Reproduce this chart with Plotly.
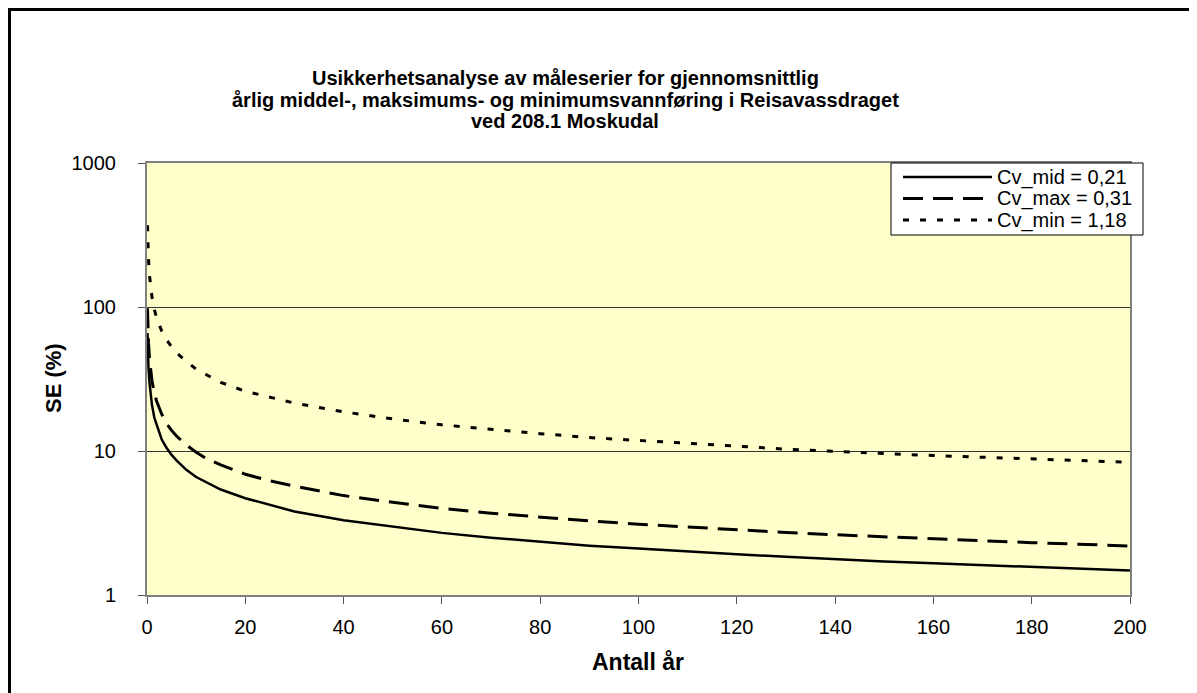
import plotly.graph_objects as go

# Number of years (x) and read-off standard error values (%)
antall_aar = [0.1, 0.2, 0.3, 0.5, 0.75, 1, 1.5, 2, 3, 4, 5, 6, 8, 10, 12, 15, 20, 25, 30,
              40, 50, 60, 70, 80, 90, 100, 110, 120, 130, 140, 150, 160, 170, 180, 190, 200]

se_mid = [66, 47, 38, 30, 24, 21, 17, 15, 12, 10.5, 9.4, 8.6, 7.4, 6.6, 6.1, 5.4, 4.7, 4.2, 3.8,
          3.3, 3.0, 2.7, 2.5, 2.35, 2.2, 2.1, 2.0, 1.92, 1.84, 1.77, 1.71, 1.66, 1.61, 1.57, 1.52, 1.48]

se_max = [98, 69, 57, 44, 36, 31, 25, 22, 18, 15.5, 13.9, 12.7, 11.0, 9.8, 8.9, 8.0, 6.9, 6.2, 5.7,
          4.9, 4.4, 4.0, 3.7, 3.47, 3.27, 3.1, 2.96, 2.83, 2.72, 2.62, 2.53, 2.45, 2.38, 2.31, 2.25, 2.19]

se_min = [370, 264, 215, 167, 136, 118, 96, 83, 68, 59, 53, 48, 42, 37, 34, 30, 26, 23.6, 21.5,
          18.7, 16.7, 15.2, 14.1, 13.2, 12.4, 11.8, 11.3, 10.8, 10.3, 10.0, 9.6, 9.3, 9.05, 8.8, 8.55, 8.35]

series_names = ["Cv_mid = 0,21", "Cv_max = 0,31", "Cv_min = 1,18"]

x_ticks = [0, 20, 40, 60, 80, 100, 120, 140, 160, 180, 200]
y_ticks = [1, 10, 100, 1000]

title_lines = [
    "Usikkerhetsanalyse av måleserier for gjennomsnittlig",
    "årlig middel-, maksimums- og minimumsvannføring i Reisavassdraget",
    "ved 208.1 Moskudal",
]

FONT = "Arial, 'Liberation Sans', sans-serif"

# The page body has an 8px margin; work in page pixels and convert.
OFF = 8
W, H = 1197 - OFF, 693 - OFF
PL, PR, PT, PB = 147, 1130, 163, 595        # plot area in page pixels
L, R, T, B = PL - OFF, W - (PR - OFF), PT - OFF, H - (PB - OFF)
pw, ph = W - L - R, H - T - B


def px_x(p):
    return (p - OFF - L) / pw


def px_y(p):
    return (H - B - (p - OFF)) / ph


line_styles = [
    dict(color="black", width=2.5),
    dict(color="black", width=3, dash="20px,10px"),
    dict(color="black", width=3, dash="6px,11px"),
]

fig = go.Figure()
for name, ys, ls in zip(series_names, [se_mid, se_max, se_min], line_styles):
    fig.add_trace(go.Scatter(x=antall_aar, y=ys, name=name, mode="lines",
                             line=ls, showlegend=False))

annotations = []
for i, t in enumerate(title_lines):
    annotations.append(dict(text="<b>" + t + "</b>", x=px_x(565), y=px_y(78 + 21.5 * i),
                            xref="paper", yref="paper", showarrow=False,
                            xanchor="center", yanchor="middle",
                            font=dict(family=FONT, size=20, color="black")))
annotations.append(dict(text="<b>Antall år</b>", x=px_x(638), y=px_y(662),
                        xref="paper", yref="paper", showarrow=False,
                        xanchor="center", yanchor="middle",
                        font=dict(family=FONT, size=23, color="black")))
annotations.append(dict(text="<b>SE (%)</b>", x=px_x(53), y=px_y(378),
                        xref="paper", yref="paper", showarrow=False, textangle=-90,
                        xanchor="center", yanchor="middle",
                        font=dict(family=FONT, size=22, color="black")))

# Legend box (drawn as an inset key)
LEG_X0, LEG_X1, LEG_Y0, LEG_Y1 = 891, 1143, 163, 235
row_y = [177, 198.5, 220]
shapes = [dict(type="rect", xref="paper", yref="paper",
               x0=px_x(LEG_X0), x1=px_x(LEG_X1), y0=px_y(LEG_Y1), y1=px_y(LEG_Y0),
               fillcolor="white", line=dict(color="black", width=1), layer="above")]
for name, ls, ry in zip(series_names, line_styles, row_y):
    shapes.append(dict(type="line", xref="paper", yref="paper",
                       x0=px_x(903), x1=px_x(992), y0=px_y(ry), y1=px_y(ry),
                       line=ls, layer="above"))
    annotations.append(dict(text=name, x=px_x(995), y=px_y(ry),
                            xref="paper", yref="paper", showarrow=False,
                            xanchor="left", yanchor="middle",
                            font=dict(family=FONT, size=20, color="black")))

# Outer chart frame
shapes.append(dict(type="rect", xref="paper", yref="paper",
                   x0=px_x(9.5), x1=px_x(1220), y0=px_y(720), y1=px_y(9.5),
                   line=dict(color="black", width=3), layer="above"))

fig.update_layout(
    width=W, height=H,
    margin=dict(l=L, r=R, t=T, b=B),
    paper_bgcolor="white",
    plot_bgcolor="#FFFFCC",
    font=dict(family=FONT, size=20, color="black"),
    showlegend=False,
    annotations=annotations,
    shapes=shapes,
)

fig.update_xaxes(range=[0, 200], tickvals=x_ticks, ticktext=[str(v) for v in x_ticks],
                 showgrid=False, zeroline=False,
                 showline=True, linecolor="#808080", linewidth=2, mirror=True,
                 ticks="outside", ticklen=7, tickcolor="#555555", tickwidth=1,
                 ticklabelstandoff=6,
                 tickfont=dict(family=FONT, size=20, color="black"))
fig.update_yaxes(type="log", range=[0, 3], tickvals=y_ticks, ticktext=[str(v) for v in y_ticks],
                 showgrid=True, gridcolor="#333333", gridwidth=1, zeroline=False,
                 showline=True, linecolor="#808080", linewidth=2, mirror=True,
                 ticks="outside", ticklen=7, tickcolor="#555555", tickwidth=1,
                 ticklabelstandoff=18,
                 tickfont=dict(family=FONT, size=20, color="black"))

fig.write_html("out.html")
